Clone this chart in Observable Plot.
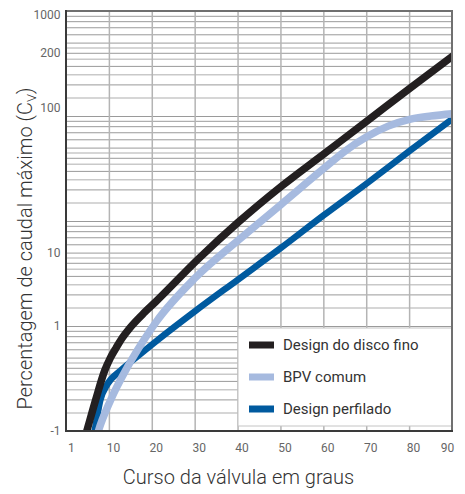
<!DOCTYPE html>
<html><head><meta charset="utf-8">
<script src="https://cdn.jsdelivr.net/npm/d3@7"></script>
<script src="https://cdn.jsdelivr.net/npm/@observablehq/plot@0.6"></script>
<style>body{margin:0;background:#fff;font-family:Roboto,sans-serif}</style>
</head><body><div id="chart"></div>
<script>
// ---- data ----
const seriesNames = ["Design do disco fino", "BPV comum", "Design perfilado"];
const seriesColors = ["#231f20", "#a6badf", "#005a9f"];

const discoX = [4.2, 4.7, 6.8, 8.9, 10.2, 11.6, 13, 14.6, 17.7, 20.8, 31, 40, 50, 60, 70, 80, 90];
const discoY = [0.085, 0.1, 0.2, 0.38, 0.5, 0.63, 0.78, 0.95, 1.3, 1.72, 4.5, 9.8, 21.5, 44, 90, 185, 375];

const bpvX = [6.9, 7.4, 10.3, 14.2, 18, 21, 30, 40, 50, 60, 65, 70, 75, 80, 85, 90];
const bpvY = [0.085, 0.1, 0.2, 0.41, 0.74, 1.12, 2.9, 6.6, 14.5, 32, 47, 64, 81, 94, 101, 106];

const perfX = [5.9, 6.4, 7.9, 9.5, 12.6, 17.3, 21.2, 30, 40, 50, 60, 70, 80, 90];
const perfY = [0.08, 0.095, 0.2, 0.28, 0.38, 0.55, 0.74, 1.4, 2.8, 5.6, 11.5, 23, 47, 95];

const xTicks = [1, 10, 20, 30, 40, 50, 60, 70, 80, 90];
const xVGrid = [10, 20, 30, 40, 50, 60, 70, 80];
const yTickValues = [920, 400, 120, 5, 1, 0.1];
const yTickLabels = ["1000", "200", "100", "10", "1", "-1"];
const gridDecades = [0.1, 1, 10, 100];
const gridSteps = [1, 1.5, 2, 2.5, 3, 3.5, 4, 4.5, 5, 6, 7, 8, 9];

const xTitle = "Curso da válvula em graus";
const yTitleMain = "Percentagem de caudal máximo (C";
const yTitleSub = "V";
const yTitleEnd = ")";

// ---- derived tables ----
const toRows = (xs, ys) => xs.map((x, i) => ({x, y: ys[i]}));
const disco = toRows(discoX, discoY);
const bpv = toRows(bpvX, bpvY);
const perf = toRows(perfX, perfY);
const gridMajor = gridDecades.flatMap(d => gridSteps.filter(s => Number.isInteger(s)).map(s => d * s)).concat([1000]);
const gridMinor = gridDecades.flatMap(d => gridSteps.filter(s => !Number.isInteger(s)).map(s => d * s));
const yTicks = yTickValues.map((v, i) => ({v, label: yTickLabels[i]}));

const W = 465, H = 494;
const plot = Plot.plot({
  width: W, height: H,
  marginLeft: 66, marginRight: 13, marginTop: 11, marginBottom: 63,
  style: {fontFamily: "Roboto, sans-serif", fontSize: "12px", color: "#666", background: "#fff"},
  x: {domain: [0, 90], axis: null},
  y: {type: "log", domain: [0.1, 1000], axis: null},
  marks: [
    Plot.ruleY(gridMinor, {stroke: "#c9c9c9", strokeWidth: 1.5}),
    Plot.ruleY(gridMajor, {stroke: "#9a9a9a", strokeWidth: 1}),
    Plot.ruleX(xVGrid, {stroke: "#b4b4b4", strokeWidth: 1.5}),
    Plot.line(perf, {x: "x", y: "y", stroke: seriesColors[2], strokeWidth: 6.5, curve: "monotone-x", clip: true}),
    Plot.line(bpv, {x: "x", y: "y", stroke: seriesColors[1], strokeWidth: 7.5, curve: "monotone-x", clip: true}),
    Plot.line(disco, {x: "x", y: "y", stroke: seriesColors[0], strokeWidth: 7.5, curve: "monotone-x", clip: true}),
    Plot.text(yTicks, {y: "v", text: "label", frameAnchor: "left", textAnchor: "end", dx: -6, fill: "#666", fontSize: 12}),
    Plot.axisX(xTicks.slice(0, 1), {tickSize: 0, tickPadding: 12, dx: 0.5, fill: "#666", fontSize: 12, label: null}),
    Plot.axisX(xTicks.slice(1, -1), {tickSize: 0, tickPadding: 12, dx: 4, fill: "#666", fontSize: 12, label: null}),
    Plot.axisX(xTicks.slice(-1), {tickSize: 0, tickPadding: 12, dx: -5, fill: "#666", fontSize: 12, label: null}),
    Plot.text([xTitle], {frameAnchor: "bottom", dy: 46, dx: -21, fontSize: 20, fontWeight: 300, fill: "#333", lineAnchor: "middle", textAnchor: "middle"}),
    Plot.text([yTitleMain], {frameAnchor: "left", rotate: -90, dx: -41, dy: 27, fontSize: 20, fontWeight: 300, fill: "#333", lineAnchor: "middle", textAnchor: "middle", className: "ytitle"})
  ]
});

// subscript V in the y title
const svg = d3.select(plot);
const yt = svg.select(".ytitle text");
if (!yt.empty()) {
  yt.text(null).attr("text-anchor", "middle");
  yt.append("tspan").text(yTitleMain);
  yt.append("tspan").attr("font-size", 13).attr("dy", 4).text(yTitleSub);
  yt.append("tspan").attr("dy", -4).text(yTitleEnd);
}

// legend box over the plot
const xr = W - 13;
const lg = svg.append("g").attr("font-family", "Roboto, sans-serif").attr("text-anchor", "start");
lg.append("rect").attr("x", 238).attr("y", 328).attr("width", xr - 238).attr("height", 98)
  .attr("fill", "#fff").attr("stroke", "#c4c4c4").attr("stroke-width", 1);
const rowsY = [345, 377, 409];
seriesNames.forEach((name, i) => {
  lg.append("rect").attr("x", 249).attr("y", rowsY[i] - 3.5).attr("width", 25).attr("height", 7).attr("fill", seriesColors[i]);
  lg.append("text").attr("x", 283).attr("y", rowsY[i]).attr("dy", "0.35em").attr("font-size", 15)
    .attr("fill", "#333").attr("text-anchor", "start").text(name);
});

// frame drawn on top of everything
const fr = svg.append("g");
fr.append("rect").attr("x", 66).attr("y", 11).attr("width", xr - 66).attr("height", H - 63 - 11)
  .attr("fill", "none").attr("stroke", "#707070").attr("stroke-width", 2);
fr.append("line").attr("x1", 66).attr("x2", 66).attr("y1", 10).attr("y2", H - 62).attr("stroke", "#3a3a3a").attr("stroke-width", 2);
fr.append("line").attr("x1", 65).attr("x2", xr + 1).attr("y1", H - 63).attr("y2", H - 63).attr("stroke", "#3a3a3a").attr("stroke-width", 2);

document.getElementById("chart").appendChild(plot);
</script>
</body></html>
